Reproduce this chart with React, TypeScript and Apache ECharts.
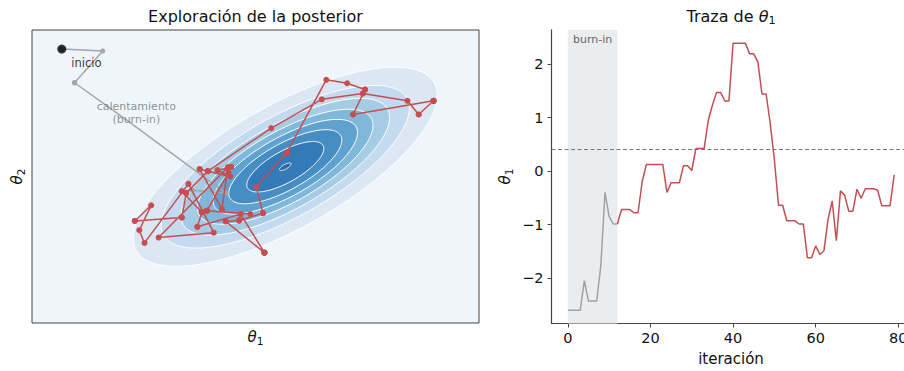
import React, { useEffect, useRef } from "react";
import * as echarts from "echarts";

const FONT = "DejaVu Sans";

// θ1 per iteration (trace, also x of the posterior path)
const theta1 = [
  -2.6, -2.6, -2.6, -2.6, -2.05, -2.43, -2.43, -2.43, -1.76, -0.4,
  -0.85, -0.99, -0.99, -0.72, -0.72, -0.72, -0.78, -0.78, -0.2, 0.12,
  0.12, 0.12, 0.12, 0.12, -0.4, -0.22, -0.22, -0.22, 0.1, 0.1,
  0.01, 0.42, 0.42, 0.42, 0.95, 1.23, 1.47, 1.47, 1.31, 1.31,
  2.39, 2.39, 2.39, 2.39, 2.19, 2.19, 2.04, 1.44, 1.44, 0.89,
  0.21, -0.64, -0.64, -0.93, -0.93, -0.93, -0.99, -0.99, -1.62, -1.62,
  -1.4, -1.56, -1.49, -0.9, -0.56, -1.3, -0.37, -0.45, -0.75, -0.75,
  -0.34, -0.51, -0.33, -0.33, -0.33, -0.36, -0.65, -0.65, -0.65, -0.07,
];
// θ2 per iteration (y of the posterior path)
const theta2 = [
  2.61, 2.61, 2.61, 2.61, 2.57, 1.92, 1.92, 1.92, 1.19, -0.34,
  -0.28, -0.3, -0.3, -0.73, -0.73, -0.73, -1.03, -1.03, -0.77, -1.56,
  -1.56, -1.56, -1.56, -1.56, -0.92, -0.9, -0.9, -0.9, -0.75, -0.75,
  -0.22, 0.49, 0.49, 0.49, 1.98, 1.91, 1.78, 1.78, 1.27, 1.27,
  1.55, 1.55, 1.55, 1.55, 1.27, 1.27, 1.55, 1.7, 1.7, 1.58,
  0.99, 0.11, 0.11, -0.34, -0.34, -0.34, -0.84, -0.84, -0.91, -0.91,
  -0.59, -1.1, -1.36, -0.15, -1.15, -1.25, 0.19, -0.67, 0.15, 0.15,
  0.0, 0.13, 0.19, 0.19, 0.19, 0.09, -0.7, -0.7, -0.7, -0.77,
];
const BURN_IN = 12;
const TRUE_THETA1 = 0.4;
// burn-in steps drawn without a marker (hidden behind the annotation in the reference)
const hiddenBurnMarkers = [8];

// posterior (bivariate normal) used for the filled contours
const POST_MEAN = [0.4, 0.2];
const POST_SD = [1.0, 1.0];
const POST_RHO = 0.72;
const contourLevels = [0.125, 0.25, 0.375, 0.5, 0.625, 0.75, 0.875, 0.997];
const bandColors = ["#dbe8f4", "#c4daee", "#a5cce4", "#80b8da", "#5fa2cf", "#468dc3", "#3479b8", "#2c69ab"];
const backgroundColor = "#eef5fb";

const traceXTicks = [0, 20, 40, 60, 80];
const traceYTicks = [-2, -1, 0, 1, 2];
const burnInLabelPos = [-1.6, 1.31];

const RED = "#c44e52";
const GRAY = "#a3a7ac";
const AXIS = "#444444";

export default function App() {
  const ref = useRef<HTMLDivElement>(null);
  useEffect(() => {
    const chart = echarts.init(ref.current!, null, { renderer: "svg" });
    const iters = theta1.map((_, i) => i);
    const burnTrace = iters.slice(0, BURN_IN + 1).map((i) => [i, theta1[i]]);
    const postTrace = iters.slice(BURN_IN).map((i) => [i, theta1[i]]);
    const burnPath = iters.slice(0, BURN_IN + 1).map((i) => [theta1[i], theta2[i]]);
    const postPath = iters.slice(BURN_IN).map((i) => [theta1[i], theta2[i]]);

    const rich = (size: number) => ({
      t: { fontFamily: FONT, fontStyle: "italic", fontSize: size, lineHeight: size + 4, verticalAlign: "middle", fill: "#111" },
      s: { fontFamily: FONT, fontSize: size * 0.7, lineHeight: size * 0.7, verticalAlign: "bottom", fill: "#111" },
      n: { fontFamily: FONT, fontSize: size, lineHeight: size + 4, verticalAlign: "middle", fill: "#111" },
    });
    const minus = (v: number) => (v < 0 ? "\u2212" + Math.abs(v) : String(v));

    const option: any = {
      animation: false,
      backgroundColor: "#ffffff",
      textStyle: { fontFamily: FONT },
      grid: [
        { left: 32, top: 30, width: 447, height: 293, show: true, backgroundColor, borderColor: AXIS, borderWidth: 1, containLabel: false, outerBoundsMode: "none" },
        { left: 551.5, top: 29.8, right: -6.5, bottom: 47.5, show: false, containLabel: false, outerBoundsMode: "none" },
      ],
      xAxis: [
        { type: "value", gridIndex: 0, min: -3, max: 3, axisLine: { show: false }, axisTick: { show: false }, axisLabel: { show: false }, splitLine: { show: false } },
        {
          type: "value", gridIndex: 1, min: -3.95, max: 82.95,
          axisLine: { show: true, onZero: false, lineStyle: { color: AXIS, width: 1.2 } },
          axisTick: { show: true, inside: false, length: 4, customValues: traceXTicks, lineStyle: { color: AXIS, width: 1 } },
          axisLabel: { customValues: traceXTicks, color: "#111", fontSize: 14.5, fontFamily: FONT, margin: 7 },
          splitLine: { show: false },
        },
      ],
      yAxis: [
        { type: "value", gridIndex: 0, min: -3, max: 3, axisLine: { show: false }, axisTick: { show: false }, axisLabel: { show: false }, splitLine: { show: false } },
        {
          type: "value", gridIndex: 1, min: -2.85, max: 2.64,
          axisLine: { show: true, onZero: false, lineStyle: { color: AXIS, width: 1.2 } },
          axisTick: { show: true, inside: false, length: 4, customValues: traceYTicks, lineStyle: { color: AXIS, width: 1 } },
          axisLabel: { customValues: traceYTicks, color: "#111", fontSize: 14.5, fontFamily: FONT, margin: 8, formatter: minus },
          splitLine: { show: false },
        },
      ],
      series: [
        {
          type: "custom", xAxisIndex: 0, yAxisIndex: 0, silent: true,
          data: contourLevels.map(() => [POST_MEAN[0], POST_MEAN[1]]),
          renderItem: (params: any, api: any) => {
            const idx = params.dataIndex;
            const r = Math.sqrt(-2 * Math.log(contourLevels[idx]));
            const pts: number[][] = [];
            const n = 160;
            for (let k = 0; k < n; k++) {
              const a = (2 * Math.PI * k) / n;
              const u = Math.cos(a), v = Math.sin(a);
              const x = POST_MEAN[0] + r * POST_SD[0] * u;
              const y = POST_MEAN[1] + r * POST_SD[1] * (POST_RHO * u + Math.sqrt(1 - POST_RHO * POST_RHO) * v);
              pts.push(api.coord([x, y]));
            }
            return { type: "polygon", shape: { points: pts }, style: { fill: bandColors[idx], stroke: "#ffffff", lineWidth: 1 } };
          },
        },
        {
          type: "line", xAxisIndex: 0, yAxisIndex: 0, data: burnPath, showSymbol: true, symbol: "circle",
          symbolSize: (_v: any, p: any) => (hiddenBurnMarkers.includes(p.dataIndex) ? 0 : 5),
          lineStyle: { color: GRAY, width: 1.5 }, itemStyle: { color: GRAY }, z: 3,
        },
        {
          type: "line", xAxisIndex: 0, yAxisIndex: 0, data: postPath, showSymbol: true, symbol: "circle", symbolSize: 6,
          lineStyle: { color: RED, width: 1.5 }, itemStyle: { color: RED }, z: 4,
        },
        {
          type: "scatter", xAxisIndex: 0, yAxisIndex: 0, data: [burnPath[0]], symbolSize: 9, itemStyle: { color: "#000" }, z: 5,
          label: { show: true, formatter: "inicio", position: "right", distance: 5, offset: [0, 14], color: "#000", fontSize: 11.5, fontFamily: FONT },
        },
        {
          type: "scatter", xAxisIndex: 0, yAxisIndex: 0, data: [burnInLabelPos], symbolSize: 0, silent: true, z: 6,
          label: { show: true, formatter: "calentamiento\n(burn-in)", position: "inside", color: "#777", fontSize: 11, lineHeight: 13, fontFamily: FONT, align: "center" },
        },
        {
          type: "line", xAxisIndex: 1, yAxisIndex: 1, data: burnTrace, showSymbol: false,
          lineStyle: { color: "#9ea2a7", width: 1.5 }, z: 3,
          markArea: {
            silent: true,
            itemStyle: { color: "#ebecee" },
            label: { show: true, position: "insideTop", distance: 4, color: "#666", fontSize: 11, fontFamily: FONT, formatter: "burn-in" },
            data: [[{ xAxis: 0 }, { xAxis: BURN_IN }]],
          },
        },
        {
          type: "line", xAxisIndex: 1, yAxisIndex: 1, data: postTrace, showSymbol: false,
          lineStyle: { color: RED, width: 1.5 }, z: 4,
          markLine: {
            silent: true, symbol: ["none", "none"], label: { show: false },
            lineStyle: { color: "#777", type: [4, 2.5], width: 1 },
            data: [{ yAxis: TRUE_THETA1 }],
          },
        },
      ],
      graphic: [
        { type: "text", x: 255.5, y: 16, style: { text: "Exploración de la posterior", fontFamily: FONT, fontSize: 16, fill: "#111", align: "center", verticalAlign: "middle" } },
        { type: "text", x: 731, y: 16, style: { text: "{n|Traza de }{t|θ}{s|1}", rich: rich(16), align: "center", verticalAlign: "middle" } },
        { type: "text", x: 255.5, y: 337, style: { text: "{t|θ}{s|1}", rich: rich(15), align: "center", verticalAlign: "middle" } },
        { type: "text", x: 17, y: 176.5, rotation: Math.PI / 2, style: { text: "{t|θ}{s|2}", rich: rich(15), align: "center", verticalAlign: "middle" } },
        { type: "text", x: 505, y: 176.5, rotation: Math.PI / 2, style: { text: "{t|θ}{s|1}", rich: rich(15), align: "center", verticalAlign: "middle" } },
        { type: "text", x: 731, y: 358.5, style: { text: "iteración", fontFamily: FONT, fontSize: 15, fill: "#111", align: "center", verticalAlign: "middle" } },
      ],
    };
    chart.setOption(option);
    return () => chart.dispose();
  }, []);
  return <div ref={ref} style={{ position: "absolute", left: 0, top: 0, width: 904, height: 371 }} />;
}
